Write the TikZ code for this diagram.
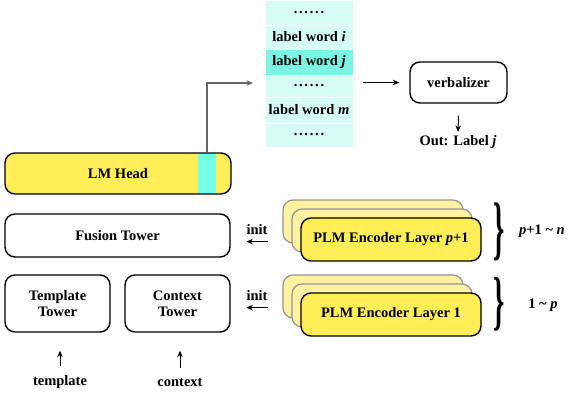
\documentclass[tikz,border=0pt]{standalone}
\usepackage{fontspec}
\setmainfont{Liberation Serif}
\usetikzlibrary{arrows.meta}
\definecolor{lmyellow}{HTML}{FFEE58}
\definecolor{paleyellow}{HTML}{FFF3A2}
\definecolor{stripcyan}{HTML}{78FCE6}
\definecolor{rowlight}{HTML}{D6FCF6}
\definecolor{rowdark}{HTML}{7DF5E4}
\definecolor{linkgray}{HTML}{666666}
\newcommand{\rowdots}{{\addfontfeature{LetterSpace=12}......}}
\begin{document}
\begin{tikzpicture}[x=1pt,y=-1pt,
  font=\fontsize{14.5}{16}\selectfont\bfseries,
  tbox/.style={draw, line width=1.4pt, rounded corners=10pt, inner sep=0pt, align=center},
  backbox/.style={draw=gray!85, fill=paleyellow, line width=1.2pt, rounded corners=10pt,
    minimum width=180pt, minimum height=43pt, inner sep=0pt},
  rowbox/.style={fill=rowlight, draw=white, line width=0.6pt, minimum width=88pt, inner sep=0pt},
  arr/.style={-{Stealth[length=6.5pt,width=5.5pt]}, line width=1pt},
  brc/.style={inner sep=0pt, font=\fontsize{26}{26}\selectfont\bfseries}]
\useasboundingbox (0,0) rectangle (568,397);

% label word column
\node[rowbox, minimum height=25pt] (r1) at (309,12.5) {\rowdots};
\node[rowbox, minimum height=24pt] (r2) at (309,37) {label word \textit{i}};
\node[rowbox, minimum height=26pt, fill=rowdark] (r3) at (309,62) {label word \textit{j}};
\node[rowbox, minimum height=22pt] (r4) at (309,86) {\rowdots};
\node[rowbox, minimum height=26pt] (r5) at (309,110) {label word \textit{m}};
\node[rowbox, minimum height=24pt] (r6) at (309,135) {\rowdots};

% LM head
\node[tbox, fill=lmyellow, minimum width=226pt, minimum height=41pt,
  path picture={\fill[stripcyan, sharp corners] ([xshift=193pt,yshift=-0.7pt]path picture bounding box.north west)
    rectangle ([xshift=211pt,yshift=0.7pt]path picture bounding box.south west);}] (lm) at (118,173.5) {LM Head};

% verbalizer
\node[tbox, minimum width=97pt, minimum height=41pt] (verb) at (458.5,82.5) {verbalizer};
\node (out) at (458,142) {Out: Label \textit{j}};

% towers
\node[tbox, minimum width=225pt, minimum height=43pt] (fusion) at (117.5,235.5) {Fusion Tower};
\node[tbox, minimum width=105pt, minimum height=57pt] (template) at (57.5,303.5) {Template\\Tower};
\node[tbox, minimum width=105pt, minimum height=57pt] (context) at (177.5,303.5) {Context\\Tower};
\node (tmpl) at (60,382) {template};
\node (ctx) at (180,382) {context};

% PLM stacks
\node[backbox] (ub1) at (373,221.5) {};
\node[backbox] (ub2) at (382,230.5) {};
\node[tbox, fill=lmyellow, minimum width=180pt, minimum height=43pt] (upper) at (391,239.5) {PLM Encoder Layer \textit{p}+1};
\node[backbox] (lb1) at (373,296.5) {};
\node[backbox] (lb2) at (382,305.5) {};
\node[tbox, fill=lmyellow, minimum width=180pt, minimum height=43pt] (lower) at (391,314.5) {PLM Encoder Layer 1};

% init labels
\node[inner xsep=0pt] (init1) at (257,230) {init};
\node[inner xsep=0pt] (init2) at (257,296) {init};

% braces and ranges
\node[brc] (bru) at (499,232) {\scalebox{1.1}[2.7]{\}}};
\node[brc] (brl) at (499,304.5) {\scalebox{1.1}[2.5]{\}}};
\node (rng1) at (542,231) {\textit{p}+1 \textasciitilde{} \textit{n}};
\node (rng2) at (543,305) {1 \textasciitilde{} \textit{p}};

% connectors
\coordinate (k) at (207,0);
\coordinate (a1) at (253,83);
\draw[arr, linkgray, line width=1.3pt] (lm.north -| k) |- (a1);
\draw[arr] ([xshift=10pt]r4.east |- verb.west) -- ([xshift=-10pt]verb.west);
\draw[arr] ([yshift=-12pt]verb.south) -- (out.north);
\draw[arr] ([yshift=-3pt]init1.south east) -- ([yshift=-3pt]init1.south west);
\draw[arr] ([yshift=-3pt]init2.south east) -- ([yshift=-3pt]init2.south west);
\draw[arr] ([yshift=6pt]tmpl.north) -- ([yshift=-18pt]tmpl.north |- template.south);
\draw[arr] ([yshift=6pt]ctx.north) -- ([yshift=-18pt]ctx.north |- context.south);
\end{tikzpicture}
\end{document}
